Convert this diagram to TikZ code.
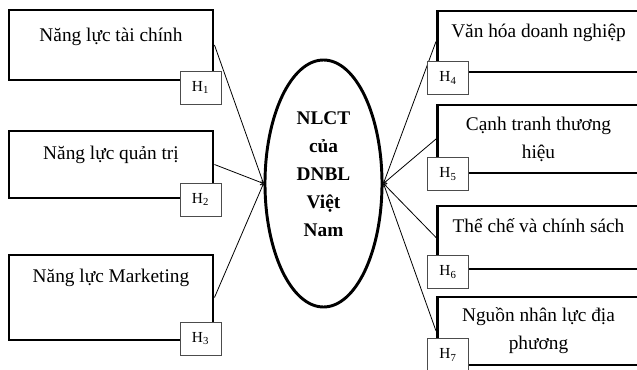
\documentclass[tikz,border=0pt]{standalone}
\usepackage{fontspec}
\setmainfont{Liberation Serif}
\usetikzlibrary{shapes.geometric}

\begin{document}
\begin{tikzpicture}[x=0.75pt, y=-0.75pt,
	factor/.style={rectangle, draw=black, line width=2.2pt, fill=white, inner sep=2pt, align=center, font=\fontsize{14.5}{21}\selectfont},
	hbox/.style={rectangle, draw=black!70, line width=0.6pt, fill=white, minimum width=30.75pt, minimum height=24.75pt, inner sep=0pt, font=\fontsize{11.5}{13}\selectfont},
	core/.style={ellipse, draw=black, line width=2.2pt, minimum width=87.75pt, minimum height=185.25pt, inner sep=0pt, align=center, font=\fontsize{14.5}{21}\selectfont\bfseries}]
	\useasboundingbox (0,0) rectangle (637,370);
	\clip (0,0) rectangle (637,370);
	\node[factor, minimum width=153pt, minimum height=52.5pt, text depth=15pt](taichinh) at (111,45){Năng lực tài chính};
	\node[factor, minimum width=153pt, minimum height=50.25pt, text depth=17pt](quantri) at (111,164.5){Năng lực quản trị};
	\node[factor, minimum width=153pt, minimum height=63.75pt, text depth=33pt](marketing) at (111,297.5){Năng lực Marketing};
	\node[factor, minimum width=151.5pt, minimum height=45.75pt, text depth=16pt](vanhoa) at (538.5,41.5){Văn hóa doanh nghiệp};
	\node[factor, minimum width=151.5pt, minimum height=51pt](canhtranh) at (538.5,139){Cạnh tranh thương\\hiệu};
	\node[factor, minimum width=151.5pt, minimum height=47.25pt, text depth=18pt](thieche) at (538.5,237.5){Thể chế và chính sách};
	\node[factor, minimum width=151.5pt, minimum height=51pt](nhanluc) at (538.5,331){Nguồn nhân lực địa\\phương};
	\node[core, text depth=14pt](nlct) at (323.5,183.5){NLCT\\của\\DNBL\\Việt\\Nam};
	\draw[->, line width=0.6pt] (taichinh.east) -- (nlct.west);
	\draw[->, line width=0.6pt] (quantri.east) -- (nlct.west);
	\draw[->, line width=0.6pt] (marketing.east) -- (nlct.west);
	\draw[->, line width=0.6pt] (vanhoa.west) -- (nlct.east);
	\draw[->, line width=0.6pt] (canhtranh.west) -- (nlct.east);
	\draw[->, line width=0.6pt] (thieche.west) -- (nlct.east);
	\draw[->, line width=0.6pt] (nhanluc.west) -- (nlct.east);
	\node[hbox](h1) at (200.5,87.5){H\textsubscript{1}};
	\node[hbox](h2) at (200.5,199.5){H\textsubscript{2}};
	\node[hbox](h3) at (200.5,338.5){H\textsubscript{3}};
	\node[hbox](h4) at (448,78){H\textsubscript{4}};
	\node[hbox](h5) at (448,174){H\textsubscript{5}};
	\node[hbox](h6) at (448,272){H\textsubscript{6}};
	\node[hbox](h7) at (448,355){H\textsubscript{7}};
\end{tikzpicture}
\end{document}
